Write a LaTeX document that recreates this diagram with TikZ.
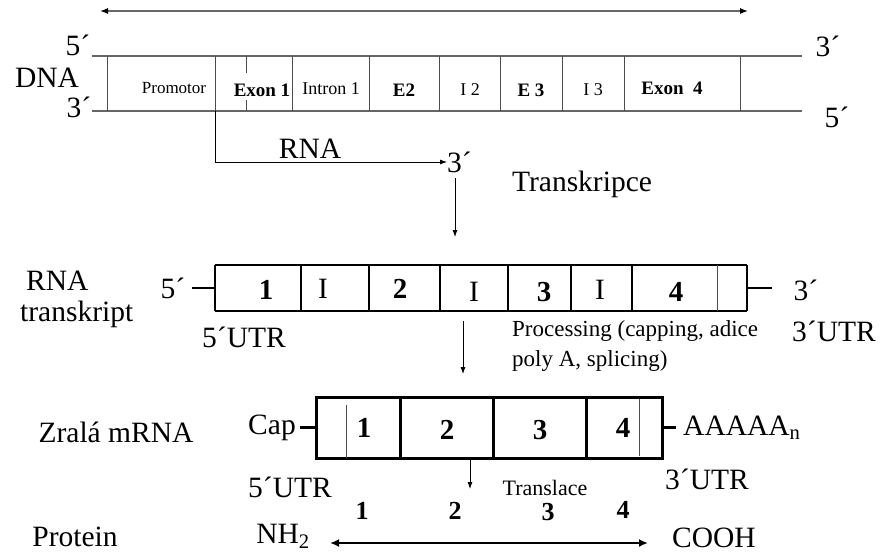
\documentclass[tikz,border=0pt]{standalone}
\usepackage{fontspec}
\setmainfont{Liberation Serif}
\usetikzlibrary{arrows.meta}
\begin{document}
\begin{tikzpicture}[x=1pt,y=-1pt,
  big/.style={font=\fontsize{29.5}{31}\selectfont, inner sep=0pt},
  mid/.style={font=\fontsize{23}{25}\selectfont, inner sep=0pt},
  smalltxt/.style={font=\fontsize{22}{24}\selectfont, inner sep=0pt},
  dnat/.style={font=\fontsize{18}{20}\selectfont, inner sep=0pt},
  promt/.style={font=\fontsize{17}{19}\selectfont, inner sep=0pt},
  dnab/.style={font=\fontsize{19}{21}\selectfont\bfseries, inner sep=0pt},
  num/.style={font=\fontsize{29}{31}\selectfont\bfseries, inner sep=0pt},
  pnum/.style={font=\fontsize{26}{28}\selectfont\bfseries, inner sep=0pt},
  strand/.style={draw=black!60, line width=1.3pt},
  sep/.style={draw=black!70, line width=1pt},
  arr/.style={-{Latex[length=7pt,width=5pt]}, line width=0.8pt},
  boxline/.style={line width=1.3pt},
  thickdiv/.style={line width=2.4pt},
  mbox/.style={line width=3pt},
]
\useasboundingbox (0,0) rectangle (890,554);

% top double arrow
\coordinate (ta) at (100,11);
\coordinate (tb) at (748,11);
\draw[draw=black!60, line width=1.2pt, {Latex[length=8pt,width=6pt,black]}-{Latex[length=8pt,width=6pt,black]}] (ta) -- (tb);

% DNA
\draw[strand] (92,56) -- (802,56);
\draw[strand] (92,111) -- (802,111);
\foreach \x in {107,215,292,369,439,500,562,624,740} \draw[sep] (\x,56) -- (\x,111);
\draw[sep] (246,56) -- (246,73);
\draw[sep] (246,100) -- (246,111);

\node[promt] (prom) at (174,88) {Promotor};
\node[dnab] (e1) at (262,90) {Exon 1};
\node[dnat] (i1) at (331,89) {Intron 1};
\node[dnab] (e2) at (404,90) {E2};
\node[dnat] (i2) at (470,90) {I 2};
\node[dnab] (e3) at (531,90) {E 3};
\node[dnat] (i3) at (593,90) {I 3};
\node[dnab] (e4) at (672,88) {Exon\ \ 4};

\node[big] (d5) at (78,45) {5´};
\node[big] (dna) at (47,78) {DNA};
\node[big] (d3) at (79,107) {3´};
\node[big] (r3) at (828,46) {3´};
\node[big] (r5) at (837,117) {5´};

% RNA arrow
\coordinate (rs) at (215,111);
\node[big, anchor=west] (rna3) at (447,162) {3´};
\node[big] (rnal) at (310,149) {RNA};
\draw[arr] (rs) |- (rna3.west);

% Transkripce
\coordinate (t1) at (455,178);
\coordinate (t2) at (455,237);
\draw[arr] (t1) -- (t2);
\node[big] (trk) at (582,184) {Transkripce};

% RNA transcript
\draw[boxline] (215,265) -- (747,265);
\draw[boxline] (215,311) -- (747,311);
\foreach \x in {215,301,369,440,508,571,632,747} \draw[thickdiv] (\x,265) -- (\x,311);
\draw[sep] (717,265) -- (717,311);
\draw[boxline] (192,288) -- (215,288);
\draw[boxline] (747,288) -- (772,288);
\node[big] (t5) at (173,288) {5´};
\node[big] (t3) at (806,290) {3´};
\node[num] (x1) at (266,290) {1};
\node[big] (xi1) at (323,289) {I};
\node[num] (x2) at (400,289) {2};
\node[big] (xi2) at (474,292) {I};
\node[num] (x3) at (544,292) {3};
\node[big] (xi3) at (600,290) {I};
\node[num] (x4) at (676,292) {4};
\node[big, anchor=west] (rnat) at (26,281) {RNA};
\node[big, anchor=west] (trn) at (20,314) {transkript};
\node[big] (u5) at (244,337) {5´UTR};
\node[big] (u3) at (834,331) {3´UTR};
\node[mid, anchor=west] (proc1) at (512,331) {Processing (capping, adice};
\node[mid, anchor=west] (proc2) at (512,361) {poly A, splicing)};
\coordinate (p1) at (463,321);
\coordinate (p2) at (463,374);
\draw[arr] (p1) -- (p2);

% mature mRNA
\draw[mbox] (316,397) rectangle (662,458);
\foreach \x in {400,493,586} \draw[mbox] (\x,397) -- (\x,458);
\draw[sep] (346,405) -- (346,458);
\draw[sep] (639,399) -- (639,456);
\draw[mbox] (300,427) -- (316,427);
\draw[mbox] (662,427) -- (676,427);
\node[big] (cap) at (272,428) {Cap};
\node[big, anchor=west] (polya) at (683,428) {AAAAA\textsubscript{n}};
\node[num] (m1) at (364,428) {1};
\node[num] (m2) at (447,430) {2};
\node[num] (m3n) at (540,430) {3};
\node[num] (m4) at (623,428) {4};
\node[big] (zm) at (116,432) {Zralá mRNA};
\node[big] (m5) at (290,487) {5´UTR};
\node[big] (m3) at (707,479) {3´UTR};
\coordinate (tl1) at (470,459);
\coordinate (tl2) at (470,489);
\draw[arr] (tl1) -- (tl2);
\node[smalltxt] (trl) at (545,488) {Translace};

% protein
\node[pnum] (q1) at (362,511) {1};
\node[pnum] (q2) at (455,511) {2};
\node[pnum] (q3) at (548,512) {3};
\node[pnum] (q4) at (623,510) {4};
\node[big] (prot) at (75,537) {Protein};
\node[big] (nh) at (283,536) {NH\textsubscript{2}};
\node[big, anchor=west] (cooh) at (672,538) {COOH};
\coordinate (pa) at (330,543);
\coordinate (pb) at (648,543);
\draw[line width=2.5pt, {Latex[length=9pt,width=8pt]}-{Latex[length=9pt,width=8pt]}] (pa) -- (pb);
\end{tikzpicture}
\end{document}
